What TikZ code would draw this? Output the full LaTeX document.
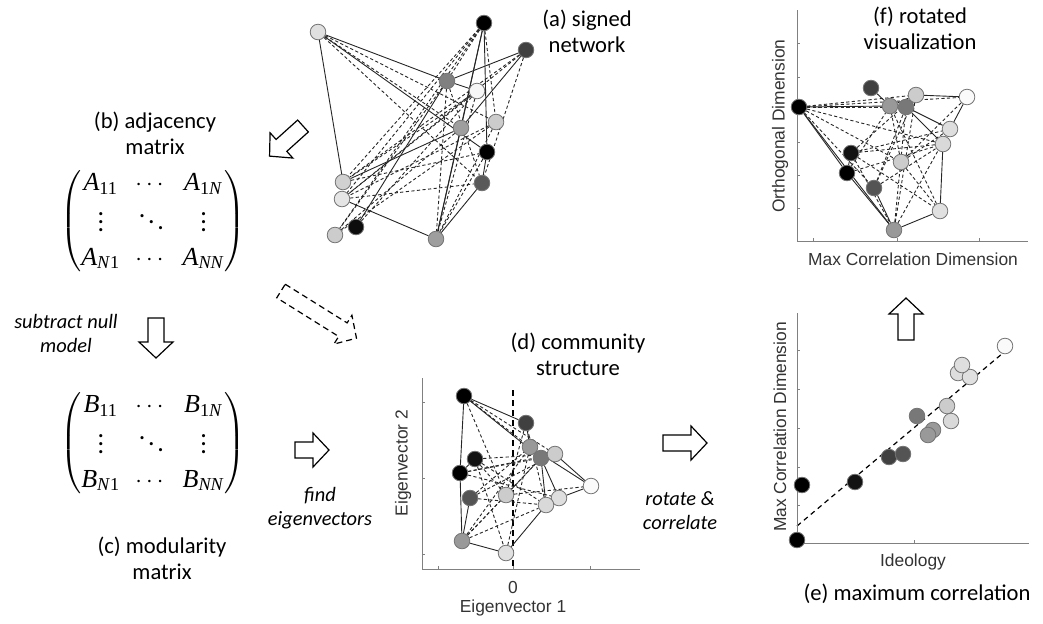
\documentclass[tikz,border=0pt]{standalone}
\usepackage{fontspec}
\usepackage{amsmath}
\setmainfont{Carlito}
\newfontfamily\axisfont{Liberation Sans}
\newfontfamily\mxfont{Liberation Serif}
\usetikzlibrary{backgrounds}

\newcommand{\ent}[2]{\text{\mxfont\itshape #1}_{\text{\mxfont #2}}}
\newcommand{\hollowarrow}[4][]{%
  \begin{scope}[shift={#2}, rotate=#3]
    \draw[black, line width=0.6pt, fill=white, #1] (0,-8) -- ({#4-16},-8) -- ({#4-16},-17)
      -- (#4,0) -- ({#4-16},17) -- ({#4-16},8) -- (0,8) -- cycle;
  \end{scope}}

\tikzset{
  vtx/.style={circle, draw=black!55, line width=0.4pt, minimum size=7.8pt, inner sep=0pt},
  tie/.style={black!85, line width=0.45pt},
  foe/.style={black!85, line width=0.45pt, dash pattern=on 1.6pt off 1.2pt},
  lbl/.style={align=center, font=\fontsize{11.3}{13}\selectfont},
  note/.style={align=center, font=\fontsize{10.2}{12}\selectfont\itshape},
  axlbl/.style={font=\axisfont\fontsize{8.7}{10}\selectfont, text=black!80},
  axis/.style={black!50, line width=0.5pt},
  mtx/.style={font=\fontsize{13}{16}\selectfont}
}

\begin{document}
\begin{tikzpicture}[x=0.5pt, y=-0.5pt]
  \useasboundingbox (0,0) rectangle (1043,623);

  % (a) signed network
  \foreach \n/\x/\y/\c in {a1/318/32/black!12, a2/484/23/black, a3/526/50/black!75,
      a4/447/81/black!50, a5/477/91/black!3, a6/496/122/black!20, a7/461/128/black!38,
      a8/487/152/black, a9/482/183/black!65, a10/343/182/black!18, a11/342/199/black!10,
      a12/356/227/black!95, a13/335/235/black!20, a14/436/239/black!38}
    \node[vtx, fill=\c] (\n) at (\x,\y) {};
  \begin{scope}[on background layer]
    \foreach \u/\v in {a1/a10, a1/a4, a4/a5, a1/a8, a2/a7, a2/a8, a3/a4, a3/a7, a4/a12,
        a7/a10, a11/a14, a14/a9, a9/a8, a7/a14, a2/a14}
      \draw[tie] (\u) -- (\v);
    \foreach \u/\v in {a1/a6, a1/a7, a1/a9, a2/a10, a2/a11, a2/a13, a2/a6, a3/a11, a3/a9,
        a4/a14, a4/a9, a4/a13, a5/a10, a5/a11, a5/a14, a6/a11, a6/a13, a6/a14, a7/a13,
        a8/a14, a10/a8, a11/a9, a5/a12, a3/a10, a2/a4}
      \draw[foe] (\u) -- (\v);
  \end{scope}
  \node[lbl] (lblA) at (587,31) {(a) signed\\network};

  % (b) and (c) matrices
  \node[lbl] (lblB) at (155,133) {(b) adjacency\\matrix};
  \node[mtx] (matA) at (153,221)
    {$\renewcommand{\arraystretch}{1.05}\setlength{\arraycolsep}{3.8pt}\left(\begin{array}{@{}ccc@{}}
      \ent{A}{11} & \cdots & \ent{A}{1\textit{N}}\\
      \vdots & \ddots & \vdots\\
      \ent{A}{\textit{N}1} & \cdots & \ent{A}{\textit{NN}}
    \end{array}\right)$};
  \node[note] (noteNull) at (66,333) {subtract null\\model};
  \node[mtx] (matB) at (153,443)
    {$\renewcommand{\arraystretch}{1.05}\setlength{\arraycolsep}{3.8pt}\left(\begin{array}{@{}ccc@{}}
      \ent{B}{11} & \cdots & \ent{B}{1\textit{N}}\\
      \vdots & \ddots & \vdots\\
      \ent{B}{\textit{N}1} & \cdots & \ent{B}{\textit{NN}}
    \end{array}\right)$};
  \node[lbl] (lblC) at (162,558) {(c) modularity\\matrix};

  % block arrows
  \hollowarrow{(303,126)}{-138}{45}
  \hollowarrow{(156,318)}{-90}{40}
  \hollowarrow[dashed, dash pattern=on 3pt off 2pt]{(281,291)}{-32}{89}
  \hollowarrow{(295,450)}{0}{34}
  \hollowarrow{(663,443)}{0}{44}
  \hollowarrow{(906,340)}{90}{42}
  \node[note] (noteEig) at (320,508) {find\\eigenvectors};
  \node[note] (noteRot) at (680,511) {rotate \&\\correlate};

  % (d) community structure
  \draw[axis] (422,378) -- (422,569) -- (640,569);
  \foreach \y in {402,478,554} \draw[axis] (422,\y) -- (425,\y);
  \foreach \x in {438,513,590} \draw[axis] (\x,569) -- (\x,566);
  \coordinate (zeroT) at (513,390);
  \coordinate (zeroB) at (513,569);
  \foreach \n/\x/\y/\c in {d1/464/396/black, d2/526/423/black!75, d3/530/447/black!40,
      d4/541/458/black!53, d5/555/454/black!20, d6/591/486/black!2, d7/475/459/black!93,
      d8/460/473/black, d9/470/498/black!67, d10/506/495/black!20, d11/559/498/black!13,
      d12/546/505/black!15, d13/462/541/black!40, d14/506/553/black!12}
    \node[vtx, fill=\c] (\n) at (\x,\y) {};
  \begin{scope}[on background layer]
    \draw[black, line width=0.7pt, dash pattern=on 3pt off 2pt] (zeroT) -- (zeroB);
    \foreach \u/\v in {d1/d8, d1/d2, d1/d4, d2/d3, d4/d12, d4/d11, d5/d6, d3/d6, d6/d11,
        d8/d13, d8/d7, d9/d13, d13/d14, d14/d12}
      \draw[tie] (\u) -- (\v);
    \foreach \u/\v in {d1/d3, d1/d10, d1/d5, d7/d5, d7/d10, d7/d12, d7/d14, d8/d4, d8/d11,
        d8/d5, d13/d3, d13/d4, d13/d10, d13/d12, d9/d3, d9/d12, d9/d5, d10/d2, d10/d4,
        d14/d3, d10/d6, d12/d2}
      \draw[foe] (\u) -- (\v);
  \end{scope}
  \node[axlbl, rotate=90] (axD2) at (403,463) {Eigenvector 2};
  \node[axlbl] (tickD0) at (513,587) {0};
  \node[axlbl] (axD1) at (513,608) {Eigenvector 1};
  \node[lbl] (lblD) at (578,354) {(d) community\\structure};

  % (e) maximum correlation
  \draw[axis] (797,313) -- (797,543) -- (1029,543);
  \foreach \y in {350,389,428,467,505} \draw[axis] (797,\y) -- (800,\y);
  \draw[axis] (914,543) -- (914,540);
  \coordinate (fitS) at (797,526);
  \coordinate (fitE) at (1003,353);
  \foreach \n/\x/\y/\c in {e1/797/540/black, e2/802/485/black, e3/855/482/black!93,
      e4/889/457/black!75, e5/903/454/black!67, e6/917/416/black!53, e7/933/430/black!40,
      e8/928/435/black!40, e9/947/406/black!20, e10/951/421/black!15, e11/958/373/black!13,
      e12/970/377/black!12, e13/962/365/black!13, e14/1005/346/black!2}
    \node[vtx, fill=\c] (\n) at (\x,\y) {};
  \begin{scope}[on background layer]
    \draw[black, line width=0.6pt, dash pattern=on 2.5pt off 2pt] (fitS) -- (fitE);
  \end{scope}
  \node[axlbl, rotate=90] (axE2) at (780,427) {Max Correlation Dimension};
  \node[axlbl] (axE1) at (913,562) {Ideology};
  \node[lbl] (lblE) at (917,594) {(e) maximum correlation};

  % (f) rotated visualization
  \draw[axis] (797,10) -- (797,241) -- (1028,241);
  \foreach \y in {43,77,109,142,175,208} \draw[axis] (797,\y) -- (800,\y);
  \foreach \x in {813,897,979} \draw[axis] (\x,241) -- (\x,238);
  \foreach \n/\x/\y/\c in {f1/799/107/black, f2/871/88/black!75, f3/890/106/black!40,
      f4/906/107/black!53, f5/916/95/black!20, f6/967/97/black!2, f7/950/129/black!13,
      f8/943/144/black!15, f9/851/153/black!93, f10/847/173/black, f11/901/162/black!20,
      f12/874/188/black!67, f13/940/211/black!12, f14/894/230/black!40}
    \node[vtx, fill=\c] (\n) at (\x,\y) {};
  \begin{scope}[on background layer]
    \foreach \u/\v in {f1/f3, f1/f10, f1/f14, f9/f10, f10/f14, f12/f14, f2/f3, f3/f4,
        f4/f7, f4/f8, f5/f6, f6/f7, f8/f13, f13/f14, f3/f5}
      \draw[tie] (\u) -- (\v);
    \foreach \u/\v in {f1/f5, f1/f4, f1/f6, f1/f11, f1/f12, f1/f8, f9/f5, f9/f7, f9/f8,
        f10/f8, f10/f3, f11/f3, f11/f13, f11/f7, f12/f4, f12/f5, f14/f4, f14/f5, f14/f7,
        f13/f3, f9/f13, f12/f8, f11/f6, f9/f14}
      \draw[foe] (\u) -- (\v);
  \end{scope}
  \node[axlbl, rotate=90] (axF2) at (780,126) {Orthogonal Dimension};
  \node[axlbl] (axF1) at (913,259) {Max Correlation Dimension};
  \node[lbl] (lblF) at (920,28) {(f) rotated\\visualization};
\end{tikzpicture}
\end{document}
